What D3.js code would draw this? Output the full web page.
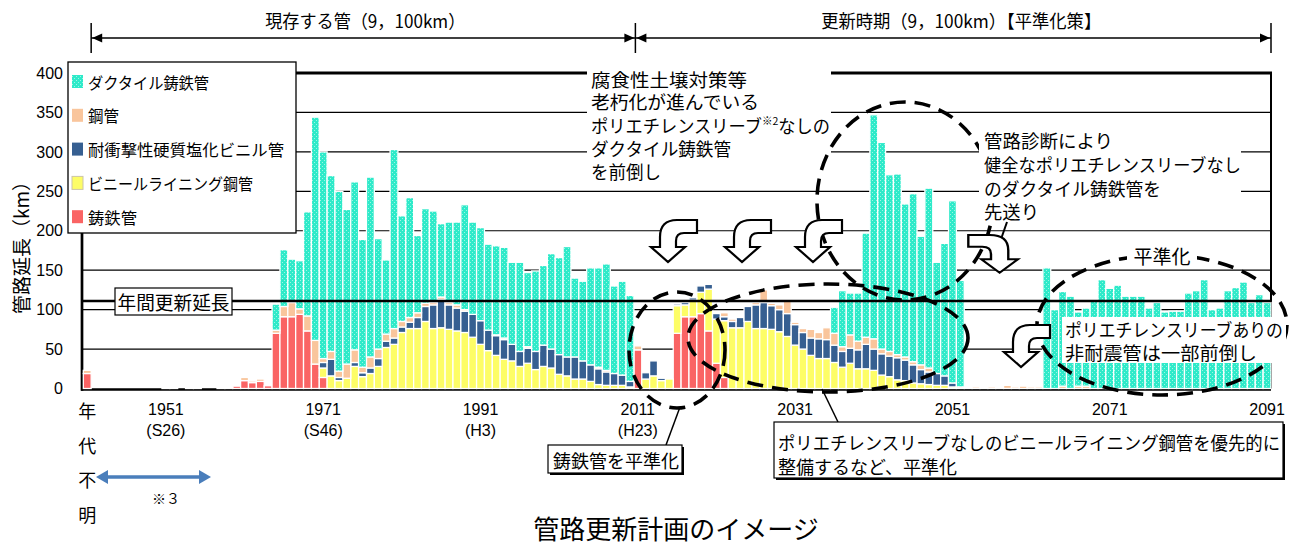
<!DOCTYPE html>
<html>
<head>
<meta charset="utf-8">
<script src="https://cdn.jsdelivr.net/npm/d3@7"></script>
<style>
  body { margin: 0; background: #fff; }
  svg { display: block; font-family: "Noto Sans CJK JP", "Noto Sans", sans-serif; }
  .num { font-family: "Liberation Sans", Arial, sans-serif; }
</style>
</head>
<body>
<svg id="chart" width="1311" height="544"></svg>
<script>
// Categories: pipes of unknown age, then one bar per year
const categories = ['年代不明',
  1942, 1943, 1944, 1945, 1946, 1947, 1948, 1949, 1950,
  1951, 1952, 1953, 1954, 1955, 1956, 1957, 1958, 1959, 1960,
  1961, 1962, 1963, 1964, 1965, 1966, 1967, 1968, 1969, 1970,
  1971, 1972, 1973, 1974, 1975, 1976, 1977, 1978, 1979, 1980,
  1981, 1982, 1983, 1984, 1985, 1986, 1987, 1988, 1989, 1990,
  1991, 1992, 1993, 1994, 1995, 1996, 1997, 1998, 1999, 2000,
  2001, 2002, 2003, 2004, 2005, 2006, 2007, 2008, 2009, 2010,
  2011, 2012, 2013, 2014, 2015, 2016, 2017, 2018, 2019, 2020,
  2021, 2022, 2023, 2024, 2025, 2026, 2027, 2028, 2029, 2030,
  2031, 2032, 2033, 2034, 2035, 2036, 2037, 2038, 2039, 2040,
  2041, 2042, 2043, 2044, 2045, 2046, 2047, 2048, 2049, 2050,
  2051, 2052, 2053, 2054, 2055, 2056, 2057, 2058, 2059, 2060,
  2061, 2062, 2063, 2064, 2065, 2066, 2067, 2068, 2069, 2070,
  2071, 2072, 2073, 2074, 2075, 2076, 2077, 2078, 2079, 2080,
  2081, 2082, 2083, 2084, 2085, 2086, 2087, 2088, 2089, 2090,
  2091];

// 鋳鉄管 (km)
const castIron = [19,
  0, 0, 0, 0, 0, 0, 0, 0, 0,
  0, 0, 0, 0, 0, 0, 0, 0, 0, 3,
  10, 7.5, 9, 3.5, 70, 91, 91, 94, 73, 31,
  14, 0, 0, 0, 0, 0, 0, 0, 0, 0,
  0, 0, 0, 0, 0, 0, 0, 0, 0, 0,
  0, 0, 0, 0, 0, 0, 0, 0, 0, 0,
  0, 0, 0, 0, 0, 0, 0, 0, 0, 0,
  49, 0, 0, 0, 0, 70, 91, 91, 95, 73,
  32, 14, 0, 0, 0, 0, 0, 0, 0, 0,
  0, 0, 0, 0, 0, 0, 0, 0, 0, 0,
  0, 0, 0, 0, 0, 0, 0, 0, 0, 0,
  0, 0, 0, 0, 0, 0, 0, 0, 0, 0,
  0, 0, 0, 0, 0, 0, 0, 0, 0, 0,
  0, 0, 0, 0, 0, 0, 0, 0, 0, 0,
  0, 0, 0, 0, 0, 0, 0, 0, 0, 0,
  0];

// ビニールライニング鋼管 (km)
const vinylLined = [0,
  0, 0, 0, 0, 0, 0, 0, 0, 0,
  0, 0, 0, 0, 0, 0, 0, 0, 0, 0,
  0, 0, 0, 0, 0, 0, 0, 0, 0, 0,
  12, 16, 10, 13, 28, 15, 19, 28, 52, 56,
  71, 76, 76, 85, 76, 77, 75, 73, 71, 65,
  56, 48, 42, 37, 35, 28, 32, 24, 28, 26,
  18, 16, 12, 12, 9, 5, 4, 4, 4, 2,
  0, 12, 16, 10, 12, 35, 15, 21, 27, 53,
  56, 72, 77, 77, 85, 76, 76, 75, 72, 66,
  55, 50, 42, 38, 38, 33, 27, 32, 25, 25,
  23, 17, 15, 11, 10, 7, 6, 5, 4, 4,
  2, 0, 0, 0, 0, 0, 0, 0, 0, 0,
  0, 0, 0, 0, 0, 0, 0, 0, 0, 0,
  0, 0, 0, 0, 0, 0, 0, 0, 0, 0,
  0, 0, 0, 0, 0, 0, 0, 0, 0, 0,
  0];

// 耐衝撃性硬質塩化ビニル管 (km)
const impactPvc = [0,
  0, 0, 0, 0, 0, 0, 0, 0, 0,
  0, 0, 0, 0, 0, 0, 0, 0, 0, 0,
  0, 0, 0, 0, 0, 0, 0, 0, 0, 0,
  7, 21, 4, 0, 5, 5, 7, 10, 8, 8,
  7, 8, 14, 19, 30, 36, 31, 29, 27, 29,
  30, 26, 25, 25, 21, 19, 19, 23, 27, 24,
  25, 24, 28, 23, 21, 20, 17, 15, 13, 7,
  0, 8, 19, 3, 0, 2, 3, 3, 8, 6,
  7, 5, 8, 13, 19, 30, 33, 30, 28, 29,
  26, 21, 22, 25, 24, 22, 20, 19, 24, 31,
  27, 27, 26, 28, 26, 23, 18, 16, 15, 12,
  5, 0, 0, 0, 0, 0, 0, 0, 0, 0,
  0, 0, 0, 0, 0, 0, 0, 0, 0, 0,
  0, 0, 0, 0, 0, 0, 0, 0, 0, 0,
  0, 0, 0, 0, 0, 0, 0, 0, 0, 0,
  0];

// 鋼管 (km)
const steel = [4,
  0, 0, 0, 0, 0, 0, 0, 0, 0,
  1.5, 1.5, 0, 1.5, 1.5, 0, 0, 1.5, 1.5, 0,
  4, 2, 3, 0, 4, 13, 18, 7, 19, 30,
  5, 10, 8, 18, 16, 7, 14, 12, 9, 12,
  7, 6, 6, 4, 3, 3, 3, 4, 2, 0,
  0, 0, 1, 2, 0, 0, 2, 0, 0, 0,
  0, 0, 0, 0, 0, 2, 2, 0, 0, 0,
  5, 0, 0, 0, 0, 0, 0, 0, 0, 0,
  0, 5, 3, 0, 0, 3, 16, 3, 6, 18,
  3, 5, 11, 8, 15, 15, 6, 17, 11, 9,
  13, 6, 6, 4, 4, 4, 6, 5, 0, 0,
  0, 2, 1, 2, 1, 2, 1, 4, 2, 3,
  2, 2, 0, 0, 3, 0, 3, 3, 0, 0,
  0, 0, 0, 0, 0, 0, 0, 0, 0, 0,
  0, 0, 0, 0, 0, 0, 0, 0, 0, 0,
  0];

// ダクタイル鋳鉄管 (km)
const ductile = [0,
  0, 0, 0, 0, 0, 0, 0, 0, 0,
  0, 0, 0, 0, 0, 0, 0, 0, 0, 0,
  0, 0, 0, 0, 33, 72, 55, 61, 132, 283,
  262, 223, 228, 196, 213, 162, 228, 140, 94, 227,
  134, 152, 98, 120, 116, 93, 102, 105, 133, 117,
  118, 109, 113, 115, 104, 113, 94, 102, 101, 121,
  123, 140, 100, 101, 123, 126, 135, 111, 119, 109,
  0, 0, 0, 0, 0, 0, 0, 0, 0, 0,
  0, 0, 0, 0, 0, 0, 0, 0, 0, 0,
  0, 0, 0, 0, 0, 33, 71, 53, 61, 132,
  284, 262, 224, 229, 194, 213, 163, 228, 141, 168,
  231, 135, 0, 0, 0, 0, 0, 0, 0, 0,
  0, 0, 153, 100, 120, 117, 94, 99, 113, 138,
  127, 131, 117, 117, 117, 102, 109, 97, 98, 98,
  121, 124, 138, 100, 102, 124, 128, 135, 109, 119,
  109];

const seriesNames = ['鋳鉄管', 'ビニールライニング鋼管', '耐衝撃性硬質塩化ビニル管', '鋼管', 'ダクタイル鋳鉄管'];
const yTicks = [0, 50, 100, 150, 200, 250, 300, 350, 400];
const xTickYears = [1951, 1971, 1991, 2011, 2031, 2051, 2071, 2091];
const xTickEras = ['(S26)', '(S46)', '(H3)', '(H23)', '', '', '', ''];
const annualRenewal = 111;   // 年間更新延長 (km/年)

// ---------------------------------------------------------------
const svg = d3.select('#chart');
const keys = ['castIron', 'vinylLined', 'impactPvc', 'steel', 'ductile'];
const colors = {
  castIron: '#fa6464',
  vinylLined: '#fdfd66',
  impactPvc: '#365f91',
  steel: '#f9c59c',
  ductile: 'url(#ductileDots)'
};

const defs = svg.append('defs');
const pat = defs.append('pattern').attr('id', 'ductileDots')
  .attr('width', 4).attr('height', 4).attr('patternUnits', 'userSpaceOnUse');
pat.append('rect').attr('width', 4).attr('height', 4).attr('fill', '#2eeac9');
pat.append('rect').attr('x', 0).attr('y', 0).attr('width', 1).attr('height', 1).attr('fill', '#9cf6e5');
pat.append('rect').attr('x', 2).attr('y', 2).attr('width', 1).attr('height', 1).attr('fill', '#9cf6e5');

const plotLeft = 82, plotRight = 1271;
const x = d3.scaleBand().domain(categories).range([83.3, 1271]).padding(0);
const y = d3.scaleLinear().domain([0, 400]).range([388.5, 73]);
const bw = x.bandwidth();
const cx = c => x(c) + bw / 2;

// gridlines
svg.append('g').selectAll('line')
  .data(yTicks.filter(v => v > 0 && v < 400))
  .join('line')
  .attr('x1', plotLeft).attr('x2', plotRight)
  .attr('y1', d => y(d)).attr('y2', d => y(d))
  .attr('stroke', '#000').attr('stroke-width', 1.2);
svg.append('line').attr('x1', plotLeft).attr('x2', plotRight + 1)
  .attr('y1', y(400)).attr('y2', y(400)).attr('stroke', '#000').attr('stroke-width', 3);
svg.append('line').attr('x1', plotRight).attr('x2', plotRight)
  .attr('y1', y(400)).attr('y2', y(0)).attr('stroke', '#000').attr('stroke-width', 2);

// baseline + y axis line
svg.append('line').attr('x1', plotLeft - 1).attr('x2', plotRight)
  .attr('y1', y(0) + 1).attr('y2', y(0) + 1).attr('stroke', '#000').attr('stroke-width', 2.6);
svg.append('line').attr('x1', plotLeft).attr('x2', plotLeft)
  .attr('y1', y(400)).attr('y2', y(0) + 2.3).attr('stroke', '#000').attr('stroke-width', 2.7);

// stacked bars
const table = categories.map((c, i) => ({
  cat: c, castIron: castIron[i], vinylLined: vinylLined[i],
  impactPvc: impactPvc[i], steel: steel[i], ductile: ductile[i]
}));
const stacked = d3.stack().keys(keys)(table);
svg.append('g').selectAll('g')
  .data(stacked)
  .join('g')
  .attr('fill', d => colors[d.key])
  .selectAll('rect')
  .data(d => d.filter(s => s[1] - s[0] > 0))
  .join('rect')
  .attr('x', d => x(d.data.cat))
  .attr('width', bw)
  .attr('y', d => y(d[1]))
  .attr('height', d => y(d[0]) - y(d[1]))
  .attr('stroke', '#fff').attr('stroke-width', 1.3);

// annual renewal line
svg.append('line').attr('x1', plotLeft).attr('x2', plotRight)
  .attr('y1', y(annualRenewal)).attr('y2', y(annualRenewal))
  .attr('stroke', '#000').attr('stroke-width', 2.6);

// y axis labels
const yAxis = svg.append('g').attr('class', 'num')
  .attr('transform', 'translate(63,0)')
  .call(d3.axisLeft(y).tickValues(yTicks).tickSize(0).tickPadding(0));
yAxis.select('.domain').remove();
yAxis.selectAll('text').attr('font-size', 16).attr('fill', '#000')
  .attr('font-family', '"Liberation Sans", Arial, sans-serif');

svg.append('text')
  .attr('transform', 'translate(20,243) rotate(-90)')
  .attr('text-anchor', 'middle').attr('dominant-baseline', 'central')
  .attr('font-size', 19).text('管路延長（km）');

// x axis labels
const xl = svg.append('g');
xTickYears.forEach((yr, i) => {
  xl.append('text').attr('class', 'num').attr('x', cx(yr)).attr('y', 409)
    .attr('text-anchor', 'middle').attr('dominant-baseline', 'central')
    .attr('font-size', 16).text(yr);
  if (xTickEras[i]) {
    xl.append('text').attr('class', 'num').attr('x', cx(yr)).attr('y', 430)
      .attr('text-anchor', 'middle').attr('dominant-baseline', 'central')
      .attr('font-size', 16).text(xTickEras[i]);
  }
});
['年', '代', '不', '明'].forEach((ch, i) => {
  xl.append('text').attr('x', cx(categories[0])).attr('y', 410 + i * 34.5)
    .attr('text-anchor', 'middle').attr('dominant-baseline', 'central')
    .attr('font-size', 18).text(ch);
});

// helper for annotation text
function txt(g, s, tx, ty, size, opt = {}) {
  const t = g.append('text').attr('x', tx).attr('y', ty)
    .attr('font-size', size).attr('dominant-baseline', 'central').text(s);
  if (opt.anchor) t.attr('text-anchor', opt.anchor);
  if (opt.len) t.attr('textLength', opt.len).attr('lengthAdjust', 'spacingAndGlyphs');
  return t;
}

// legend
const lg = svg.append('g');
lg.append('rect').attr('x', 68).attr('y', 62).attr('width', 228).attr('height', 171)
  .attr('fill', '#fff').attr('stroke', '#000').attr('stroke-width', 1.3);
const legendKeys = keys.slice().reverse();
const legendLen = { ductile: 121, steel: 31, impactPvc: 196, vinylLined: 165, castIron: 49 };
legendKeys.forEach((k, i) => {
  const ly = 81.5 + i * 33.8;
  lg.append('rect').attr('x', 72).attr('y', ly - 6.5).attr('width', 11).attr('height', 13)
    .attr('fill', colors[k]).attr('stroke', k === 'vinylLined' ? '#ccc5a8' : 'none').attr('stroke-width', 1);
  txt(lg, seriesNames[keys.indexOf(k)], 88, ly, 16, { len: legendLen[k] });
});

// 年間更新延長 box
const ab = svg.append('g');
ab.append('rect').attr('x', 115).attr('y', 288).attr('width', 117).attr('height', 27)
  .attr('fill', '#fff').attr('stroke', '#000').attr('stroke-width', 1.2);
txt(ab, '年間更新延長', 173.5, 301.5, 19, { anchor: 'middle', len: 112 });

// upper note box (front-loading)
const n1 = svg.append('g');
n1.append('rect').attr('x', 587).attr('y', 63).attr('width', 244).attr('height', 123).attr('fill', '#fff');
txt(n1, '腐食性土壌対策等', 591, 79, 18, { len: 156 });
txt(n1, '老朽化が進んでいる', 591, 101, 18, { len: 168 });
const t3 = n1.append('text').attr('x', 591).attr('y', 125).attr('font-size', 18)
  .attr('dominant-baseline', 'central')
  .attr('textLength', 239).attr('lengthAdjust', 'spacingAndGlyphs');
t3.append('tspan').text('ポリエチレンスリーブ');
t3.append('tspan').attr('font-size', 11).attr('dy', -5).text('※2');
t3.append('tspan').attr('dy', 5).text('なしの');
txt(n1, 'ダクタイル鋳鉄管', 591, 148, 18, { len: 140 });
txt(n1, 'を前倒し', 591, 171, 18, { len: 70 });

// dashed ellipses
const ell = svg.append('g').attr('fill', 'none').attr('stroke', '#000')
  .attr('stroke-width', 3.6).attr('stroke-dasharray', '16 9');
ell.append('ellipse').attr('cx', 677).attr('cy', 350).attr('rx', 48).attr('ry', 58);
ell.append('ellipse').attr('cx', 828).attr('cy', 338).attr('rx', 140).attr('ry', 54);
ell.append('ellipse').attr('cx', 905).attr('cy', 201).attr('rx', 88).attr('ry', 99);
ell.append('ellipse').attr('cx', 1162).attr('cy', 325).attr('rx', 125).attr('ry', 70);

// upper right note box (postponement)
const n2 = svg.append('g');
n2.append('rect').attr('x', 979).attr('y', 125).attr('width', 262).attr('height', 97).attr('fill', '#fff');
txt(n2, '管路診断により', 984, 139.5, 18, { len: 129 });
txt(n2, '健全なポリエチレンスリーブなし', 984, 164, 18, { len: 257 });
txt(n2, 'のダクタイル鋳鉄管を', 984, 187.5, 18, { len: 177 });
txt(n2, '先送り', 984, 210.5, 18, { len: 55 });
svg.append('line').attr('x1', 1007).attr('y1', 222).attr('x2', 1000).attr('y2', 242)
  .attr('stroke', '#000').attr('stroke-width', 2);

// 平準化 label on the ellipse
const hl = svg.append('g');
hl.append('rect').attr('x', 1127).attr('y', 244).attr('width', 70).attr('height', 22).attr('fill', '#fff');
txt(hl, '平準化', 1162, 255, 19, { anchor: 'middle', len: 57 });

// note over the flattened bars
const n3 = svg.append('g');
n3.append('rect').attr('x', 1062).attr('y', 317).attr('width', 224).attr('height', 46).attr('fill', '#fff');
txt(n3, 'ポリエチレンスリーブありの', 1065, 329, 18, { len: 218 });
txt(n3, '非耐震管は一部前倒し', 1065, 351.5, 18, { len: 192 });

// curved block arrows
const arrowPath = 'M46,0 L26,0 Q9,0 9,17 L9,27 L0,27 L17,42 L34,27 L25,27 L25,21 Q25,13 33,13 L46,13 Z';
const arrows = svg.append('g').attr('fill', '#fff').attr('stroke', '#000')
  .attr('stroke-width', 2.2).attr('stroke-linejoin', 'miter');
[[651, 220], [725, 220], [796, 220], [1004, 325]].forEach(([ax, ay]) => {
  arrows.append('path').attr('d', arrowPath).attr('transform', `translate(${ax},${ay})`);
});
arrows.append('path').attr('d', arrowPath)
  .attr('transform', 'translate(1018,235) scale(-1.08,0.9)');

// period arrows at the top
const periodArrows = svg.append('g').attr('stroke', '#000').attr('stroke-width', 1.5);
const xa = x(1942), xb = x(2011) + 1.5, xc = plotRight;
periodArrows.append('line').attr('x1', xa).attr('x2', xc).attr('y1', 38).attr('y2', 38);
[xa, xb, xc].forEach(v => periodArrows.append('line').attr('x1', v).attr('x2', v).attr('y1', 23).attr('y2', 53));
const head = (tip, dir) => `M${tip},38 L${tip - dir * 10},33.5 L${tip - dir * 10},42.5 Z`;
[[xa + 1, -1], [xb - 1, 1], [xb + 1, -1], [xc - 1, 1]].forEach(([t, d]) => {
  svg.append('path').attr('d', head(t, d)).attr('fill', '#000');
});
txt(svg, '現存する管（9，100km）', (xa + xb) / 2 + 2, 20, 18, { anchor: 'middle', len: 200 });
txt(svg, '更新時期（9，100km）【平準化策】', (xb + xc) / 2 + 8, 20, 18, { anchor: 'middle', len: 280 });

// lower callouts
const c1 = svg.append('g');
c1.append('line').attr('x1', 666).attr('y1', 445).attr('x2', 680).attr('y2', 407)
  .attr('stroke', '#000').attr('stroke-width', 1.5);
c1.append('rect').attr('x', 550).attr('y', 447).attr('width', 134).attr('height', 28).attr('fill', '#000');
c1.append('rect').attr('x', 548).attr('y', 445).attr('width', 134).attr('height', 28)
  .attr('fill', '#fff').attr('stroke', '#000').attr('stroke-width', 1.2);
txt(c1, '鋳鉄管を平準化', 553, 459.5, 18, { len: 126 });

const c2 = svg.append('g');
c2.append('line').attr('x1', 838).attr('y1', 422).attr('x2', 822).attr('y2', 389)
  .attr('stroke', '#000').attr('stroke-width', 1.5);
c2.append('rect').attr('x', 776).attr('y', 424).attr('width', 509).attr('height', 56).attr('fill', '#000');
c2.append('rect').attr('x', 774).attr('y', 422).attr('width', 509).attr('height', 56)
  .attr('fill', '#fff').attr('stroke', '#000').attr('stroke-width', 1.2);
txt(c2, 'ポリエチレンスリーブなしのビニールライニング鋼管を優先的に', 778, 441.5, 18, { len: 502 });
txt(c2, '整備するなど、平準化', 778, 465.5, 18, { len: 179 });

// unknown-age range marker
const ua = svg.append('g');
ua.append('line').attr('x1', 106).attr('x2', 201).attr('y1', 477).attr('y2', 477)
  .attr('stroke', '#4a7ebb').attr('stroke-width', 3.5);
ua.append('path').attr('d', 'M96,477 L108,470 L108,484 Z').attr('fill', '#4a7ebb');
ua.append('path').attr('d', 'M211,477 L199,470 L199,484 Z').attr('fill', '#4a7ebb');
txt(ua, '※３', 166, 498, 14, { anchor: 'middle' });

// chart title
txt(svg, '管路更新計画のイメージ', 676, 527, 26, { anchor: 'middle' });
</script>
</body>
</html>
